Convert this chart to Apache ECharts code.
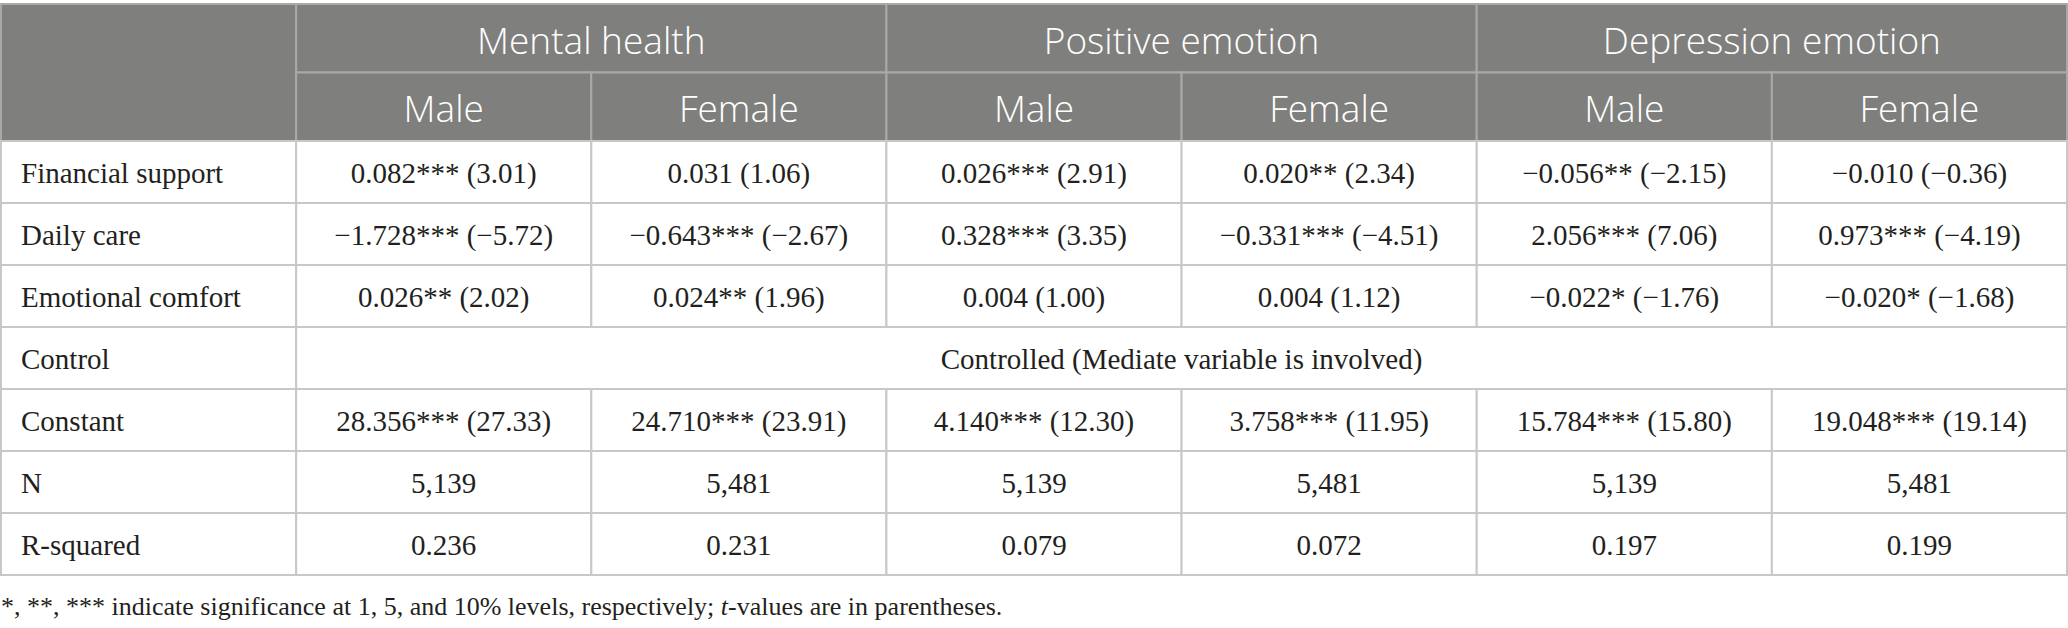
<!DOCTYPE html>
<html>
<head>
<meta charset="utf-8">
<title>Regression table</title>
<script src="https://cdn.jsdelivr.net/npm/echarts/dist/echarts.min.js"></script>
<style>
  html, body { margin: 0; padding: 0; background: #ffffff; }
  #table { width: 2068px; height: 628px; }
</style>
</head>
<body>
<div id="table"></div>
<script>
// column / row labels
var groupNames = ['Mental health', 'Positive emotion', 'Depression emotion'];
var subNames = ['Male', 'Female', 'Male', 'Female', 'Male', 'Female'];
var rowNames = ['Financial support', 'Daily care', 'Emotional comfort', 'Control', 'Constant', 'N', 'R-squared'];

// coefficients, stars and t-values per row
var coefFinancial = [0.082, 0.031, 0.026, 0.020, -0.056, -0.010];
var starsFinancial = ['***', '', '***', '**', '**', ''];
var tFinancial = [3.01, 1.06, 2.91, 2.34, -2.15, -0.36];

var coefDaily = [-1.728, -0.643, 0.328, -0.331, 2.056, 0.973];
var starsDaily = ['***', '***', '***', '***', '***', '***'];
var tDaily = [-5.72, -2.67, 3.35, -4.51, 7.06, -4.19];

var coefEmotional = [0.026, 0.024, 0.004, 0.004, -0.022, -0.020];
var starsEmotional = ['**', '**', '', '', '*', '*'];
var tEmotional = [2.02, 1.96, 1.00, 1.12, -1.76, -1.68];

var controlText = 'Controlled (Mediate variable is involved)';

var coefConstant = [28.356, 24.710, 4.140, 3.758, 15.784, 19.048];
var starsConstant = ['***', '***', '***', '***', '***', '***'];
var tConstant = [27.33, 23.91, 12.30, 11.95, 15.80, 19.14];

var sampleN = [5139, 5481, 5139, 5481, 5139, 5481];
var rSquared = [0.236, 0.231, 0.079, 0.072, 0.197, 0.199];

var footNote = '*, **, *** indicate significance at 1, 5, and 10% levels, respectively; ';

// 数字格式：负号用 U+2212
function fmt(v, d) {
    var s = Math.abs(v).toFixed(d);
    return v < 0 ? '\u2212' + s : s;
}
function coefCell(c, st, t, i) {
    return fmt(c[i], 3) + st[i] + ' (' + fmt(t[i], 2) + ')';
}

// header cells: [col, row, colSpan, rowSpan], text
var headCells = [];
headCells.push({ v: [0, 0, 1, 2], text: '' });
groupNames.forEach(function(g, i) {
    headCells.push({ v: [1 + i * 2, 0, 2, 1], text: g });
});
subNames.forEach(function(s, i) {
    headCells.push({ v: [1 + i, 1, 1, 1], text: s });
});

// body cells
var bodyCells = [];
var rowBuilders = [
    function(i) { return coefCell(coefFinancial, starsFinancial, tFinancial, i); },
    function(i) { return coefCell(coefDaily, starsDaily, tDaily, i); },
    function(i) { return coefCell(coefEmotional, starsEmotional, tEmotional, i); },
    null,
    function(i) { return coefCell(coefConstant, starsConstant, tConstant, i); },
    function(i) { return sampleN[i].toLocaleString('en-US'); },
    function(i) { return rSquared[i].toFixed(3); }
];
rowNames.forEach(function(name, r) {
    bodyCells.push({ v: [0, r, 1, 1], text: name, stub: true });
    if (rowBuilders[r] === null) {
        bodyCells.push({ v: [1, r, 6, 1], text: controlText });
    } else {
        for (var i = 0; i < 6; i++) {
            bodyCells.push({ v: [1 + i, r, 1, 1], text: rowBuilders[r](i) });
        }
    }
});

function makeRenderer(cells, isHead) {
    return function(params, api) {
        var cell = cells[params.dataIndex];
        var c = api.coord([api.value(0), api.value(1)]);
        var s = api.size([1, 1]);
        var x0 = c[0] - s[0] / 2;
        var y0 = c[1] - s[1] / 2;
        var w = s[0] * api.value(2);
        var h = s[1] * api.value(3);
        var textStyle = isHead ? {
            fill: '#ffffff',
            fontFamily: '"Open Sans", "Noto Sans", sans-serif',
            fontWeight: 300,
            fontSize: 37
        } : {
            fill: '#231f20',
            fontFamily: '"Liberation Serif", "DejaVu Serif", serif',
            fontSize: 29
        };
        textStyle.text = cell.text;
        textStyle.x = cell.stub ? x0 + 20 : x0 + w / 2;
        textStyle.y = y0 + h / 2 + 1;
        textStyle.align = cell.stub ? 'left' : 'center';
        textStyle.verticalAlign = 'middle';
        return {
            type: 'group',
            children: [{
                type: 'rect',
                shape: { x: x0, y: y0, width: w, height: h },
                style: {
                    fill: isHead ? '#7f807e' : '#ffffff',
                    stroke: isHead ? '#a9aaa8' : '#c8c8c8',
                    lineWidth: 2
                }
            }, {
                type: 'text',
                style: textStyle
            }]
        };
    };
}

var hiddenAxis = {
    axisLine: { show: false },
    axisTick: { show: false },
    axisLabel: { show: false },
    splitLine: { show: false }
};
function catAxis(gridIndex, data, inverse) {
    return Object.assign({ type: 'category', gridIndex: gridIndex, data: data, inverse: !!inverse }, hiddenAxis);
}
var colKeys = ['stub'].concat(subNames.map(function(s, i) { return s + i; }));

var noteFont = {
    fontFamily: '"Liberation Serif", serif',
    fontSize: 26,
    fontWeight: 'normal',
    color: '#231f20'
};

var chart = echarts.init(document.getElementById('table'), null, { renderer: 'svg' });
chart.setOption({
    animation: false,
    title: {
        text: '{n|' + footNote + '}{i|t}{n|-values are in parentheses.}',
        left: 1,
        top: 593,
        padding: 0,
        textStyle: {
            fontWeight: 'normal',
            rich: {
                n: noteFont,
                i: Object.assign({ fontStyle: 'italic' }, noteFont)
            }
        }
    },
    grid: [
        { left: 1, right: 1, top: 4, height: 137 },
        { left: 1, right: 1, top: 141, height: 434 }
    ],
    xAxis: [catAxis(0, colKeys), catAxis(1, colKeys)],
    yAxis: [catAxis(0, ['group', 'sex'], true), catAxis(1, rowNames, true)],
    series: [{
        type: 'custom',
        xAxisIndex: 0,
        yAxisIndex: 0,
        clip: false,
        encode: { x: 0, y: 1 },
        renderItem: makeRenderer(headCells, true),
        data: headCells.map(function(c) { return c.v; })
    }, {
        type: 'custom',
        xAxisIndex: 1,
        yAxisIndex: 1,
        clip: false,
        encode: { x: 0, y: 1 },
        renderItem: makeRenderer(bodyCells, false),
        data: bodyCells.map(function(c) { return c.v; })
    }]
});
</script>
</body>
</html>
